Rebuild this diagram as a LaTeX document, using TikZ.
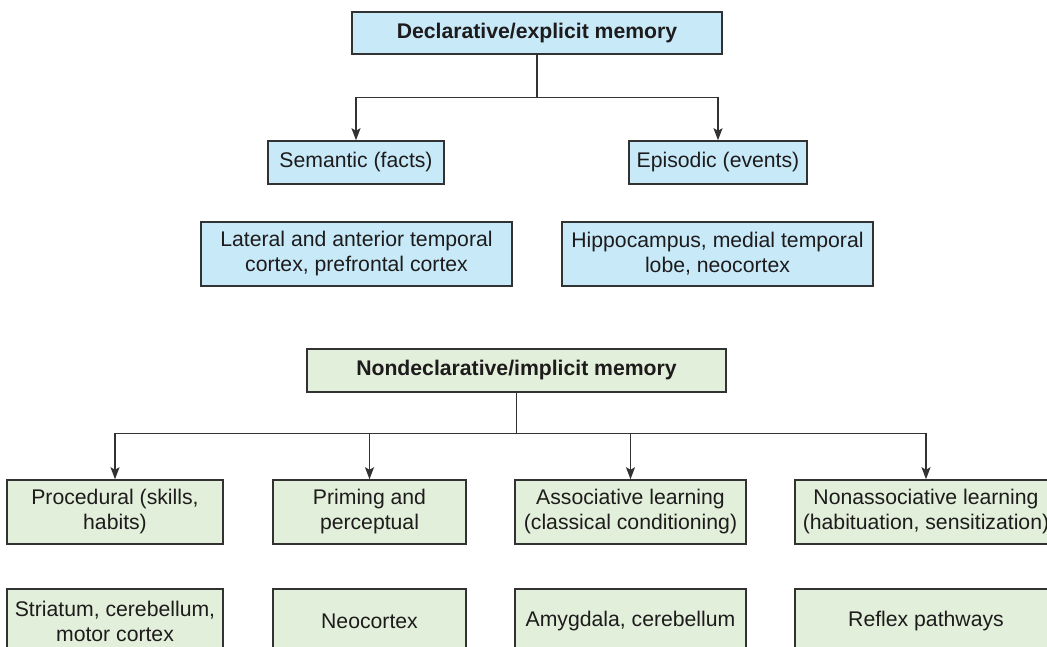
\documentclass[tikz,border=0pt]{standalone}
\usepackage{fontspec}
\setmainfont{Liberation Sans}
\usetikzlibrary{arrows.meta}
\definecolor{blueF}{RGB}{199,233,248}
\definecolor{greenF}{RGB}{226,239,218}
\definecolor{lineC}{RGB}{50,50,50}
\definecolor{textC}{RGB}{30,27,28}
\tikzset{
  box/.style={draw=lineC, line width=1.5pt, rectangle, inner sep=0pt, align=center,
    text=textC, font=\fontsize{21.2}{25}\selectfont},
  bluebox/.style={box, fill=blueF},
  greenbox/.style={box, fill=greenF},
  conn/.style={draw=lineC, line width=1.4pt},
  arr/.style={conn, -{Stealth[length=12pt, width=9pt, inset=2.5pt]}}
}
\begin{document}
\begin{tikzpicture}[x=1pt, y=-1pt]
\useasboundingbox (0,0) rectangle (1047,647);
\begin{scope}
\clip (0,0) rectangle (1047,647);
% declarative
\node[bluebox, minimum width=370pt, minimum height=42pt, font=\fontsize{21.2}{25}\selectfont\bfseries] (decl) at (537,33) {Declarative/explicit memory};
\node[bluebox, minimum width=176pt, minimum height=43pt] (sem) at (356,162.5) {Semantic (facts)};
\node[bluebox, minimum width=178pt, minimum height=43pt] (epi) at (718,162.5) {Episodic (events)};
\node[bluebox, minimum width=311pt, minimum height=64pt] (latc) at (356.5,254) {Lateral and anterior temporal\\cortex, prefrontal cortex};
\node[bluebox, minimum width=311pt, minimum height=64pt] (hipp) at (717.5,254) {Hippocampus, medial temporal\\lobe, neocortex};
\draw[arr] (decl.south) -- ++(0,43) -| (sem.north);
\draw[arr] (decl.south) -- ++(0,43) -| (epi.north);
% nondeclarative
\node[greenbox, minimum width=419pt, minimum height=43pt, font=\fontsize{21.2}{25}\selectfont\bfseries] (nond) at (516.5,370.5) {Nondeclarative/implicit memory};
\node[greenbox, minimum width=216pt, minimum height=64pt] (proc) at (115,512) {Procedural (skills,\\habits)};
\node[greenbox, minimum width=193pt, minimum height=64pt] (prim) at (369.5,512) {Priming and\\perceptual};
\node[greenbox, minimum width=231pt, minimum height=64pt] (asso) at (630.5,512) {Associative learning\\(classical conditioning)};
\node[greenbox, minimum width=262pt, minimum height=64pt] (nona) at (926,512) {Nonassociative learning\\(habituation, sensitization)};
\node[greenbox, minimum width=216pt, minimum height=64pt] (stri) at (115,621) {Striatum, cerebellum,\\motor cortex};
\node[greenbox, minimum width=193pt, minimum height=64pt] (neoc) at (369.5,621) {Neocortex};
\node[greenbox, minimum width=231pt, minimum height=64pt] (amyg) at (630.5,621) {Amygdala, cerebellum};
\node[greenbox, minimum width=262pt, minimum height=64pt] (refl) at (926,621) {Reflex pathways};
\draw[arr] (nond.south) -- ++(0,40.5) -| (proc.north);
\draw[arr] (nond.south) -- ++(0,40.5) -| (prim.north);
\draw[arr] (nond.south) -- ++(0,40.5) -| (asso.north);
\draw[arr] (nond.south) -- ++(0,40.5) -| (nona.north);
\end{scope}
\end{tikzpicture}
\end{document}
